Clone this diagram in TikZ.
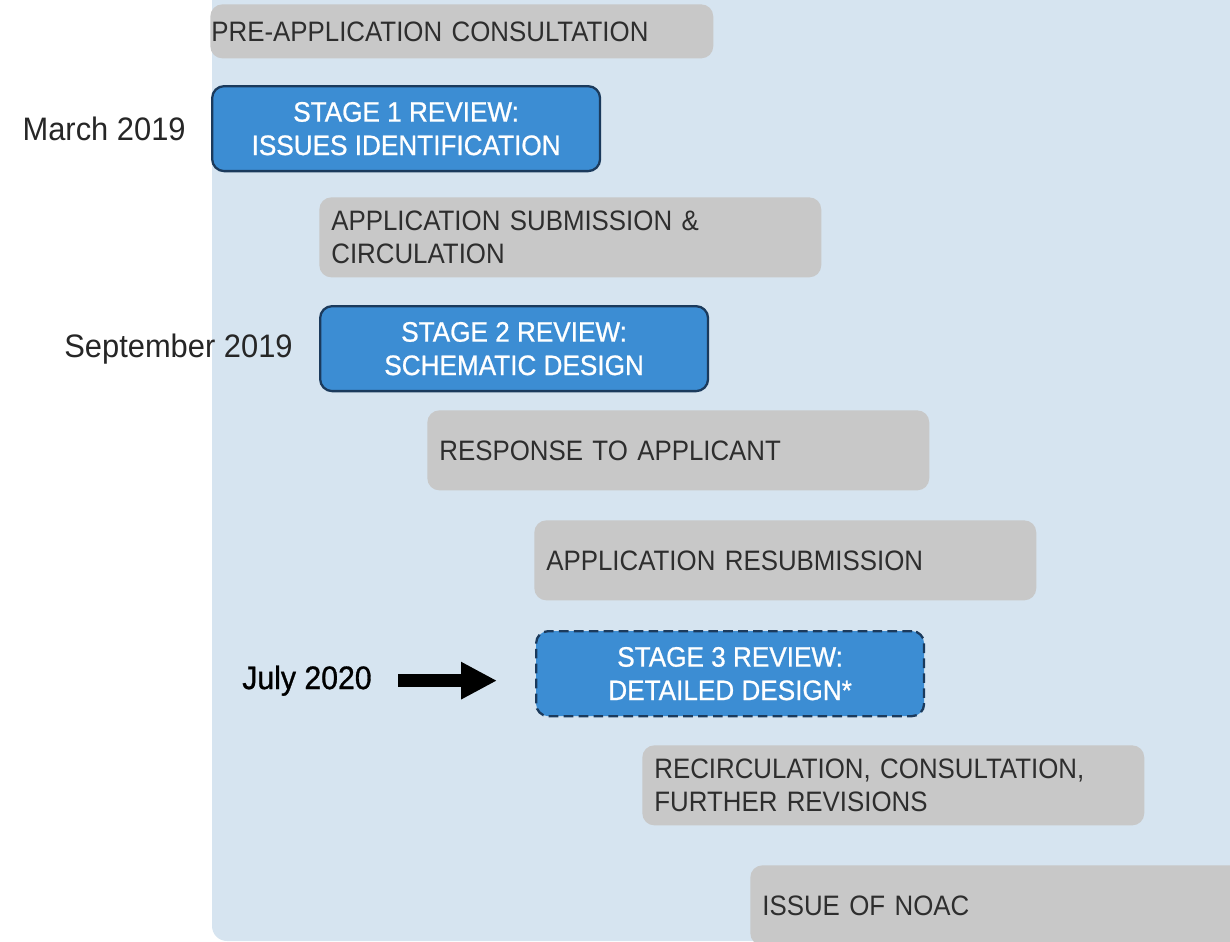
\documentclass[tikz,border=0pt]{standalone}
\usepackage{fontspec}
\setmainfont[FakeStretch=0.92]{Liberation Sans}
\newfontfamily\stagefont[FakeStretch=0.93, FakeBold=0.8]{Liberation Sans}
\newfontfamily\datefont[FakeStretch=0.95]{Liberation Sans}
\newfontfamily\keydatefont[FakeStretch=0.93, FakeBold=0.9]{Liberation Sans}
\usetikzlibrary{arrows.meta, positioning}
\definecolor{panelblue}{HTML}{D6E4F0}
\definecolor{stepgray}{HTML}{C8C8C8}
\definecolor{stageblue}{HTML}{3C8DD3}
\definecolor{stageedge}{HTML}{1B3A5C}
\definecolor{inkdark}{HTML}{2E2E2E}

\begin{document}
\begin{tikzpicture}[x=0.02cm, y=-0.02cm,
  font=\fontsize{16}{19}\selectfont,
  phase/.style={anchor=north west, fill=stepgray, rounded corners=0.24cm,
    text=inkdark, align=left, text width=9.56cm, inner xsep=0.24cm,
    minimum height=1.6cm},
  review/.style={anchor=north west, fill=stageblue, draw=stageedge,
    line width=1.3pt, rounded corners=0.24cm, text=white, align=center,
    font=\stagefont\fontsize{16}{19}\selectfont,
    minimum width=7.76cm, minimum height=1.7cm},
  datelabel/.style={inner sep=0pt, text=black!85,
    font=\datefont\fontsize{18.5}{22}\selectfont},
  datearrow/.style={line width=7pt, -{Triangle[length=0.72cm, width=0.7cm]}}]
  \useasboundingbox (0,0) rectangle (1230,941);
  \clip (0,0) rectangle (1230,941);
  \fill[panelblue, rounded corners=0.3cm] (212,-20) rectangle (1260,941);

  \node[phase, text width=10.02cm, inner xsep=0.02cm, minimum height=1.08cm]
    (preapp) at (210,4) {PRE-APPLICATION CONSULTATION};
  \node[review] (stageone) at (211,85) {STAGE 1 REVIEW:\\ISSUES IDENTIFICATION};
  \node[phase] (submit) at (319,197) {APPLICATION SUBMISSION \&\\CIRCULATION};
  \node[review] (stagetwo) at (319,305) {STAGE 2 REVIEW:\\SCHEMATIC DESIGN};
  \node[phase] (response) at (427,410) {RESPONSE TO APPLICANT};
  \node[phase] (resubmit) at (534,520) {APPLICATION RESUBMISSION};
  \node[review, dashed, dash pattern=on 5.5pt off 3pt]
    (stagethree) at (535,630) {STAGE 3 REVIEW:\\DETAILED DESIGN*};
  \node[phase] (recirc) at (642,745) {RECIRCULATION, CONSULTATION,\\FURTHER REVISIONS};
  \node[phase, text width=11cm] (noac) at (750,865) {ISSUE OF NOAC};

  \node[datelabel, left=0.5cm of stageone] (march) {March 2019};
  \node[datelabel, left=0.52cm of stagetwo] (sept) {September 2019};
  \node[datelabel, text=black, font=\keydatefont\fontsize{18.5}{22}\selectfont,
    left=3.26cm of stagethree, yshift=-0.14cm] (july) {July 2020};
  \draw[datearrow, shorten <=0.52cm, shorten >=0.76cm]
    (july.east) -- (july.east -| stagethree.west);
\end{tikzpicture}
\end{document}
